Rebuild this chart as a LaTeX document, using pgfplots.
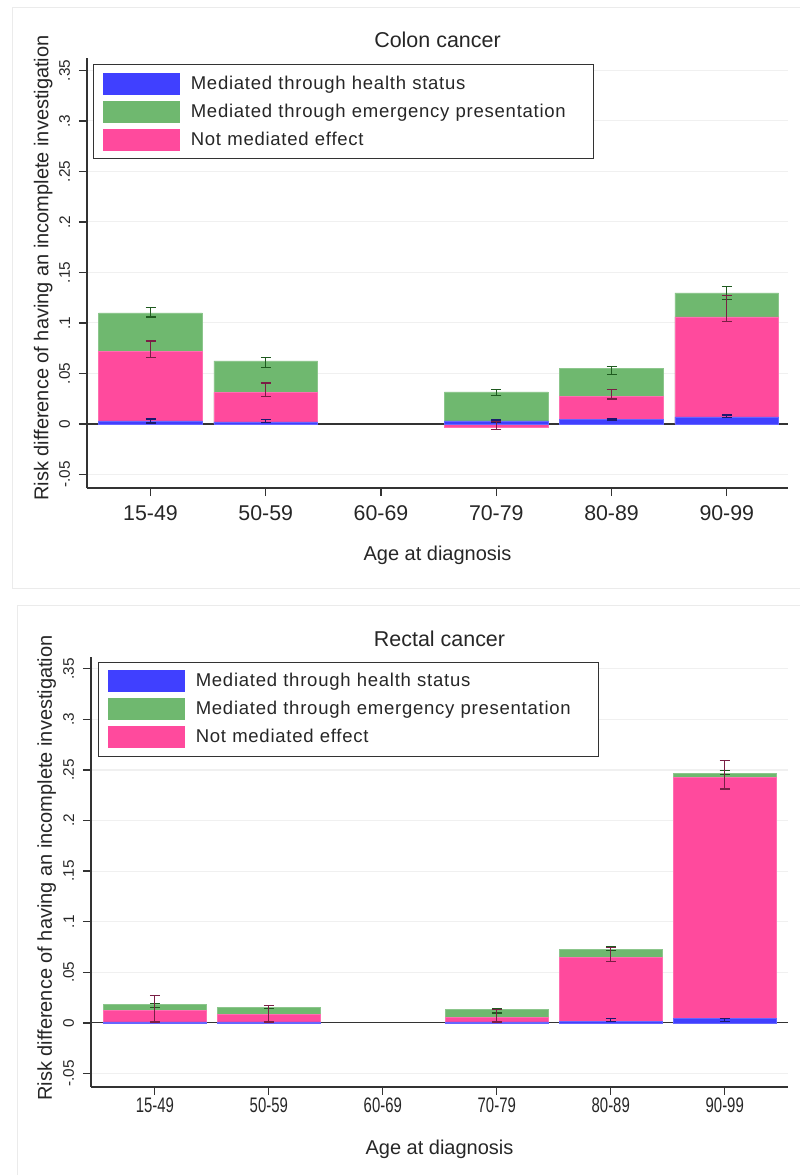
\documentclass[border=0pt]{standalone}
\usepackage{pgfplots}
\pgfplotsset{compat=1.18}
\usepackage{fontspec}
\setmainfont{Liberation Sans}
\newfontfamily\legfont{Liberation Sans}[LetterSpace=4]
\definecolor{cblue}{HTML}{4040FF}
\definecolor{cgreen}{HTML}{6FB86F}
\definecolor{cpink}{HTML}{FF4A9D}
\definecolor{eblue}{HTML}{1A1A6E}
\definecolor{egreen}{HTML}{1F5A1F}
\definecolor{epink}{HTML}{7A1F45}
\definecolor{axc}{HTML}{333333}
\pgfplotsset{
 panel/.style={
  scale only axis, anchor=north west,
  ymin=-0.0634, ymax=0.362,
  axis x line*=bottom, axis y line*=left,
  axis line style={axc, line width=1pt},
  tick style={axc, line width=1pt},
  tick align=outside, major tick length=6pt,
  xtick={0,1,2,3,4,5},
  ytick={-0.05,0,0.05,0.1,0.15,0.2,0.25,0.3,0.35},
  yticklabels={-.05,0,.05,.1,.15,.2,.25,.3,.35},
  ymajorgrids, major grid style={black!6, line width=0.8pt},
  yticklabel style={rotate=90, anchor=south, inner ysep=6.5pt, font=\fontsize{11.5pt}{13pt}\selectfont, text=black!85},
  ylabel={Risk difference of having an incomplete investigation},
  xlabel={Age at diagnosis},
  title style={font=\fontsize{16.1pt}{19pt}\selectfont, text=black!85, anchor=base},
  legend cell align=left,
  legend style={anchor=north west, draw=black!80, line width=0.9pt, fill=white,
     inner xsep=6.75pt, inner ysep=3.75pt, row sep=0pt,
     font=\legfont\fontsize{13.9pt}{16pt}\selectfont, text=black!85,
     nodes={inner xsep=8.25pt, inner ysep=0pt, minimum height=21pt, text width=287.25pt}},
 },
 bars/.style={ybar, bar width=0.9, bar shift=0pt, forget plot, line width=0.5pt},
 errs/.style={only marks, mark=*, mark size=0pt, mark options={draw=none, fill=none}, forget plot, color=#1,
   error bars/.cd, y dir=both, y explicit,
   error bar style={draw=#1, line width=1pt, solid},
   error mark options={draw=#1, fill=#1, line width=1pt, mark size=3.75pt, rotate=90}},
}
\begin{document}
\begin{tikzpicture}
\path[use as bounding box] (0,0) rectangle (600pt,-881.25pt);
\draw[black!8, line width=0.75pt] (9pt,-5.25pt) rectangle (610pt,-441pt);
\draw[black!8, line width=0.75pt] (12.75pt,-453.75pt) rectangle (610pt,-890pt);

% ---------------- Colon cancer ----------------
\begin{axis}[panel, at={(65.25pt,-43.725pt)}, width=525.75pt, height=322.275pt,
  xmin=-0.551, xmax=5.531,
  xticklabels={15-49,50-59,60-69,70-79,80-89,90-99},
  xticklabel style={font=\fontsize{16pt}{19pt}\selectfont, text=black!85, yshift=-4pt},
  xlabel style={at={(0.5,0)}, anchor=base, yshift=-54.5pt, font=\fontsize{15pt}{18pt}\selectfont, text=black!85},
  ylabel style={at={(-0.0623,0.512)}, anchor=center, font=\fontsize{15pt}{18pt}\selectfont, text=black!85},
  title={Colon cancer}, title style={at={(0.5,1)}, yshift=2.25pt},
  legend style={at={(0.0086,0.9867)}},
]
\draw[axc, line width=0.9pt] ({rel axis cs:0,0} |- {axis cs:0,0}) -- ({rel axis cs:1,0} |- {axis cs:0,0});
\addplot[bars, fill=cgreen, draw=cgreen!80!white] coordinates {(0,0.110) (1,0.0624) (3,0.0317) (4,0.0548) (5,0.1297)};
\addplot[bars, fill=cpink, draw=cpink!80!white] coordinates {(0,0.0716) (1,0.031) (3,-0.003) (4,0.027) (5,0.106)};
\addplot[bars, fill=cblue, draw=cblue!80!white] coordinates {(0,0.003) (1,0.002) (3,0.003) (4,0.0043) (5,0.007)};
\addplot[errs=eblue] coordinates {(0,0.003) +- (0,0.002) (1,0.003) +- (0,0.0015) (3,0.003) +- (0,0.001) (4,0.0045) +- (0,0.0006) (5,0.0075) +- (0,0.0013)};
\addplot[errs=egreen] coordinates {(0,0.1105) +- (0,0.0045) (1,0.061) +- (0,0.005) (3,0.031) +- (0,0.003) (4,0.053) +- (0,0.004) (5,0.1295) +- (0,0.0066)};
\addplot[errs=epink] coordinates {(0,0.074) +- (0,0.008) (1,0.034) +- (0,0.0066) (3,-0.0017) +- (0,0.004) (4,0.0296) +- (0,0.0048) (5,0.1143) +- (0,0.0127)};
\addlegendimage{legend image code/.code={\fill[cblue] (0pt,-7.875pt) rectangle (57pt,7.875pt);}}
\addlegendentry{Mediated through health status}
\addlegendimage{legend image code/.code={\fill[cgreen] (0pt,-7.875pt) rectangle (57pt,7.875pt);}}
\addlegendentry{Mediated through emergency presentation}
\addlegendimage{legend image code/.code={\fill[cpink] (0pt,-7.875pt) rectangle (57pt,7.875pt);}}
\addlegendentry{Not mediated effect}
\end{axis}

% ---------------- Rectal cancer ----------------
\begin{axis}[panel, at={(68.25pt,-492.5pt)}, width=522.75pt, height=322.725pt,
  xmin=-0.56, xmax=5.555,
  xticklabels={\scalebox{0.71}[1]{15-49},\scalebox{0.71}[1]{50-59},\scalebox{0.71}[1]{60-69},\scalebox{0.71}[1]{70-79},\scalebox{0.71}[1]{80-89},\scalebox{0.71}[1]{90-99}},
  xticklabel style={font=\fontsize{15.75pt}{18pt}\selectfont, text=black!85, yshift=1.5pt},
  xlabel style={at={(0.5,0)}, anchor=base, yshift=-51pt, font=\fontsize{15pt}{18pt}\selectfont, text=black!85},
  ylabel style={at={(-0.0636,0.509)}, anchor=center, font=\fontsize{15pt}{18pt}\selectfont, text=black!85},
  title={Rectal cancer}, title style={at={(0.5,1)}, yshift=1.5pt},
  legend style={at={(0.01,0.9884)}},
]
\draw[axc, line width=0.9pt] ({rel axis cs:0,0} |- {axis cs:0,0}) -- ({rel axis cs:1,0} |- {axis cs:0,0});
\addplot[bars, fill=cgreen, draw=cgreen!80!white] coordinates {(0,0.018) (1,0.0156) (3,0.013) (4,0.073) (5,0.2468)};
\addplot[bars, fill=cpink, draw=cpink!80!white] coordinates {(0,0.0123) (1,0.0084) (3,0.0057) (4,0.0648) (5,0.2429)};
\addplot[bars, fill=cblue, draw=cblue!80!white] coordinates {(0,0.001) (1,0.001) (3,0.001) (4,0.0015) (5,0.0041)};
\addplot[errs=eblue] coordinates {(0,0.001) +- (0,0.0006) (1,0.001) +- (0,0.0006) (3,0.001) +- (0,0.0005) (4,0.0028) +- (0,0.0013) (5,0.0028) +- (0,0.0013)};
\addplot[errs=egreen] coordinates {(0,0.0172) +- (0,0.002) (1,0.0158) +- (0,0.0013) (3,0.012) +- (0,0.0023) (4,0.0735) +- (0,0.0022) (5,0.2475) +- (0,0.002)};
\addplot[errs=epink] coordinates {(0,0.0139) +- (0,0.0129) (1,0.009) +- (0,0.008) (3,0.007) +- (0,0.006) (4,0.0677) +- (0,0.007) (5,0.2453) +- (0,0.014)};
\addlegendimage{legend image code/.code={\fill[cblue] (0pt,-7.875pt) rectangle (57pt,7.875pt);}}
\addlegendentry{Mediated through health status}
\addlegendimage{legend image code/.code={\fill[cgreen] (0pt,-7.875pt) rectangle (57pt,7.875pt);}}
\addlegendentry{Mediated through emergency presentation}
\addlegendimage{legend image code/.code={\fill[cpink] (0pt,-7.875pt) rectangle (57pt,7.875pt);}}
\addlegendentry{Not mediated effect}
\end{axis}
\end{tikzpicture}
\end{document}
